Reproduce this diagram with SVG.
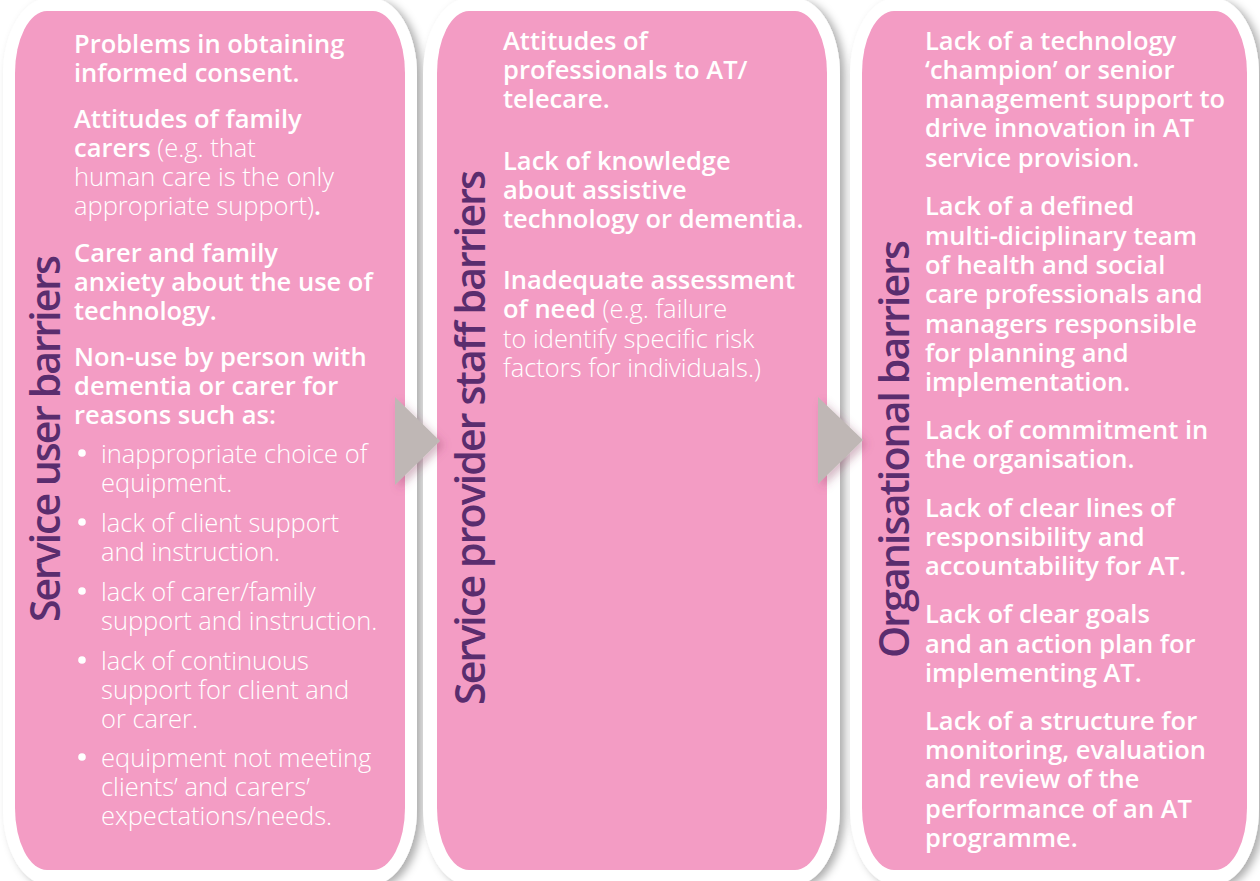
<svg xmlns="http://www.w3.org/2000/svg" width="1260" height="881" viewBox="0 0 1260 881">
  <defs>
    <filter id="frameShadow" x="-10%" y="-10%" width="125%" height="125%">
      <feDropShadow dx="5" dy="3" stdDeviation="4" flood-color="#000" flood-opacity="0.32"/>
    </filter>
    <filter id="arrowShadow" x="-30%" y="-30%" width="180%" height="180%">
      <feDropShadow dx="4" dy="4" stdDeviation="4" flood-color="#8a3a60" flood-opacity="0.35"/>
    </filter>
  </defs>
  <style>
    .frame { fill: #ffffff; filter: url(#frameShadow); }
    .panel { fill: #f39cc4; }
    .title { font-family: 'Open Sans', 'Liberation Sans', sans-serif; font-size: 41px; font-weight: 600; fill: #5a2d6e; }
    .body { font-family: 'Open Sans', 'Liberation Sans', sans-serif; font-size: 25.5px; font-weight: 600; fill: #ffffff; }
    .light { font-weight: 300; }
    .dot { fill: #ffffff; }
    .arrow { fill: #bfb7b5; filter: url(#arrowShadow); }
  </style>

  <rect width="1260" height="881" fill="#ffffff"/>

  <!-- white frames behind the pink columns -->
  <g id="frames">
    <rect class="frame" x="3" y="-2" width="414" height="887" rx="46" ry="76"/>
    <rect class="frame" x="423" y="-2" width="417" height="887" rx="46" ry="76"/>
    <rect class="frame" x="850" y="-2" width="409" height="887" rx="46" ry="76"/>
  </g>

  <!-- column 1: service user barriers -->
  <g id="service-user">
    <rect class="panel" x="15" y="11" width="390" height="859" rx="32" ry="62"/>
    <text class="title" transform="translate(60,622) rotate(-90)" textLength="367" lengthAdjust="spacing">Service user barriers</text>
    <text class="body" x="74">
      <tspan x="74" y="53">Problems in obtaining</tspan>
      <tspan x="74" y="82">informed consent.</tspan>
      <tspan x="74" y="128">Attitudes of family</tspan>
      <tspan x="74" y="157">carers<tspan class="light"> (e.g. that</tspan></tspan>
      <tspan x="74" y="186" class="light">human care is the only</tspan>
      <tspan x="74" y="215"><tspan class="light">appropriate support)</tspan>.</tspan>
      <tspan x="74" y="262">Carer and family</tspan>
      <tspan x="74" y="291">anxiety about the use of</tspan>
      <tspan x="74" y="320">technology.</tspan>
      <tspan x="74" y="366">Non-use by person with</tspan>
      <tspan x="74" y="395">dementia or carer for</tspan>
      <tspan x="74" y="424">reasons such as:</tspan>
    </text>
    <text class="body light">
      <tspan x="101" y="463">inappropriate choice of</tspan>
      <tspan x="101" y="492">equipment.</tspan>
      <tspan x="101" y="532">lack of client support</tspan>
      <tspan x="101" y="561">and instruction.</tspan>
      <tspan x="101" y="601">lack of carer/family</tspan>
      <tspan x="101" y="630">support and instruction.</tspan>
      <tspan x="101" y="670">lack of continuous</tspan>
      <tspan x="101" y="699">support for client and</tspan>
      <tspan x="101" y="728">or carer.</tspan>
      <tspan x="101" y="767">equipment not meeting</tspan>
      <tspan x="101" y="796">clients’ and carers’</tspan>
      <tspan x="101" y="825">expectations/needs.</tspan>
    </text>
    <circle class="dot" cx="82" cy="453" r="3.8"/>
    <circle class="dot" cx="82" cy="522" r="3.8"/>
    <circle class="dot" cx="82" cy="591" r="3.8"/>
    <circle class="dot" cx="82" cy="660" r="3.8"/>
    <circle class="dot" cx="82" cy="757" r="3.8"/>
  </g>

  <!-- column 2: service provider staff barriers -->
  <g id="service-provider">
    <rect class="panel" x="437" y="11" width="390" height="859" rx="32" ry="62"/>
    <text class="title" transform="translate(485,705) rotate(-90)" textLength="535" lengthAdjust="spacing">Service provider staff barriers</text>
    <text class="body">
      <tspan x="503" y="50">Attitudes of</tspan>
      <tspan x="503" y="79">professionals to AT/</tspan>
      <tspan x="503" y="108">telecare.</tspan>
      <tspan x="503" y="170">Lack of knowledge</tspan>
      <tspan x="503" y="199">about assistive</tspan>
      <tspan x="503" y="228">technology or dementia.</tspan>
      <tspan x="503" y="289">Inadequate assessment</tspan>
      <tspan x="503" y="318">of need<tspan class="light"> (e.g. failure</tspan></tspan>
      <tspan x="503" y="348" class="light">to identify specific risk</tspan>
      <tspan x="503" y="377" class="light">factors for individuals.)</tspan>
    </text>
  </g>

  <!-- column 3: organisational barriers -->
  <g id="organisational">
    <rect class="panel" x="862" y="11" width="385" height="859" rx="32" ry="62"/>
    <text class="title" transform="translate(909,658) rotate(-90)" textLength="418" lengthAdjust="spacing">Organisational barriers</text>
    <text class="body">
      <tspan x="925" y="50">Lack of a technology</tspan>
      <tspan x="925" y="79">‘champion’ or senior</tspan>
      <tspan x="925" y="108">management support to</tspan>
      <tspan x="925" y="137">drive innovation in AT</tspan>
      <tspan x="925" y="167">service provision.</tspan>
      <tspan x="925" y="215">Lack of a defined</tspan>
      <tspan x="925" y="245">multi-diciplinary team</tspan>
      <tspan x="925" y="274">of health and social</tspan>
      <tspan x="925" y="303">care professionals and</tspan>
      <tspan x="925" y="333">managers responsible</tspan>
      <tspan x="925" y="362">for planning and</tspan>
      <tspan x="925" y="391">implementation.</tspan>
      <tspan x="925" y="439">Lack of commitment in</tspan>
      <tspan x="925" y="468">the organisation.</tspan>
      <tspan x="925" y="517">Lack of clear lines of</tspan>
      <tspan x="925" y="546">responsibility and</tspan>
      <tspan x="925" y="575">accountability for AT.</tspan>
      <tspan x="925" y="623">Lack of clear goals</tspan>
      <tspan x="925" y="653">and an action plan for</tspan>
      <tspan x="925" y="682">implementing AT.</tspan>
      <tspan x="925" y="730">Lack of a structure for</tspan>
      <tspan x="925" y="759">monitoring, evaluation</tspan>
      <tspan x="925" y="788">and review of the</tspan>
      <tspan x="925" y="818">performance of an AT</tspan>
      <tspan x="925" y="847">programme.</tspan>
    </text>
  </g>

  <!-- connectors between the columns -->
  <g id="connectors">
    <polygon class="arrow" points="395,397 440,441 395,485"/>
    <polygon class="arrow" points="818,397 863,440 818,484"/>
  </g>
</svg>
